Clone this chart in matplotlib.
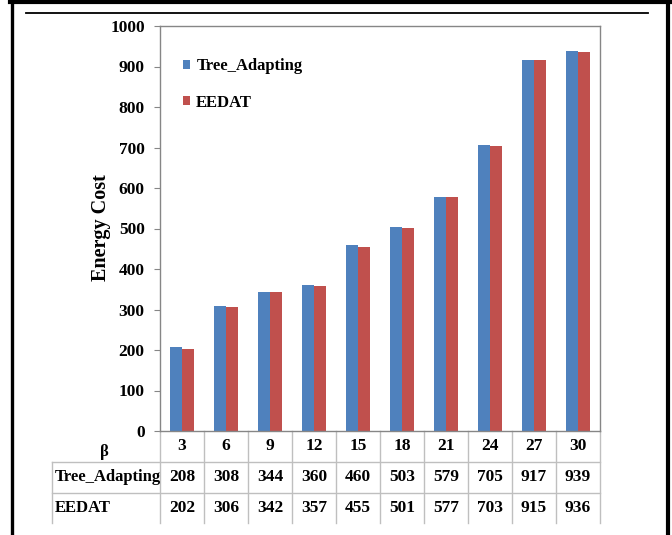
import matplotlib
matplotlib.use("Agg")
import matplotlib.pyplot as plt
import numpy as np
from matplotlib.transforms import blended_transform_factory
from matplotlib.lines import Line2D

# Data
beta = [3, 6, 9, 12, 15, 18, 21, 24, 27, 30]
tree_adapting = [208, 308, 344, 360, 460, 503, 579, 705, 917, 939]
eedat = [202, 306, 342, 357, 455, 501, 577, 703, 915, 936]
series_names = ["Tree_Adapting", "EEDAT"]
y_ticks = list(range(0, 1001, 100))

BLUE = "#4F81BD"
RED = "#C0504D"
FRAME = "#868686"
GRID = "#BFBFBF"
FONT = "Liberation Serif"

W, H = 672, 535
fig = plt.figure(figsize=(W / 100, H / 100), dpi=100)


def fx(px):
    return px / W


def fy(py):
    return 1 - py / H


ax = fig.add_axes([fx(160), fy(431), fx(440), 405 / H])

x = np.arange(len(beta))
w = 0.275
ax.bar(x - w / 2, tree_adapting, w, color=BLUE, label=series_names[0])
ax.bar(x + w / 2, eedat, w, color=RED, label=series_names[1])

ax.set_xlim(-0.5, len(beta) - 0.5)
ax.set_ylim(0, 1000)
ax.set_yticks(y_ticks)
ax.set_xticks([])
for s in ax.spines.values():
    s.set_color(FRAME)
    s.set_linewidth(1.0)
ax.tick_params(axis="y", direction="out", length=4, color=FRAME,
               labelsize=12.5, pad=7)
for lbl in ax.get_yticklabels():
    lbl.set_fontfamily(FONT)
    lbl.set_fontweight("bold")

leg = ax.legend(loc="upper left", bbox_to_anchor=(0.018, 0.958),
                frameon=False, handlelength=0.45, handleheight=0.45,
                handletextpad=0.35, labelspacing=1.25,
                prop={"family": FONT, "weight": "bold", "size": 12})

# Y axis title
fig.text(fx(101), fy(228), "Energy Cost", rotation=90, ha="center",
         va="center", family=FONT, weight="bold", fontsize=14.5)

# Data table under the axis
tr = blended_transform_factory(ax.transData, fig.transFigure)
row_top = [431, 462, 493]
row_bot = 523
left_px = 52

# vertical grid lines between columns
for b in np.arange(len(beta) + 1) - 0.5:
    ax.add_line(Line2D([b, b], [fy(431), fy(row_bot)], transform=tr,
                       color=GRID, lw=1.0, clip_on=False))
# row label column
for yp in row_top[1:]:
    fig.add_artist(Line2D([fx(left_px), fx(600)], [fy(yp), fy(yp)],
                          color=GRID, lw=1.0))
fig.add_artist(Line2D([fx(left_px), fx(left_px)], [fy(462), fy(row_bot)],
                      color=GRID, lw=1.0))

txt = dict(family=FONT, weight="bold", fontsize=12, va="center")
num = dict(family=FONT, weight="bold", fontsize=12.5, va="center")
fig.text(fx(104), fy(452), "β", ha="center", **txt)
fig.text(fx(55), fy(477), series_names[0], ha="left", **txt)
fig.text(fx(55), fy(508), series_names[1], ha="left", **txt)
for i in range(len(beta)):
    ax.text(i, fy(446), str(beta[i]), transform=tr, ha="center", **num)
    ax.text(i, fy(477), str(tree_adapting[i]), transform=tr, ha="center", **num)
    ax.text(i, fy(508), str(eedat[i]), transform=tr, ha="center", **num)

# page border and rule
fig.add_artist(Line2D([fx(11.5), fx(11.5)], [fy(2), fy(540)], color="black", lw=2.4))
fig.add_artist(Line2D([fx(668), fx(668)], [fy(2), fy(540)], color="black", lw=3.0))
fig.add_artist(Line2D([fx(10), fx(670)], [fy(2), fy(2)], color="black", lw=3.0))
fig.add_artist(Line2D([fx(26), fx(648)], [fy(13), fy(13)], color="black", lw=1.3))

fig.savefig("out.png", dpi=100)
